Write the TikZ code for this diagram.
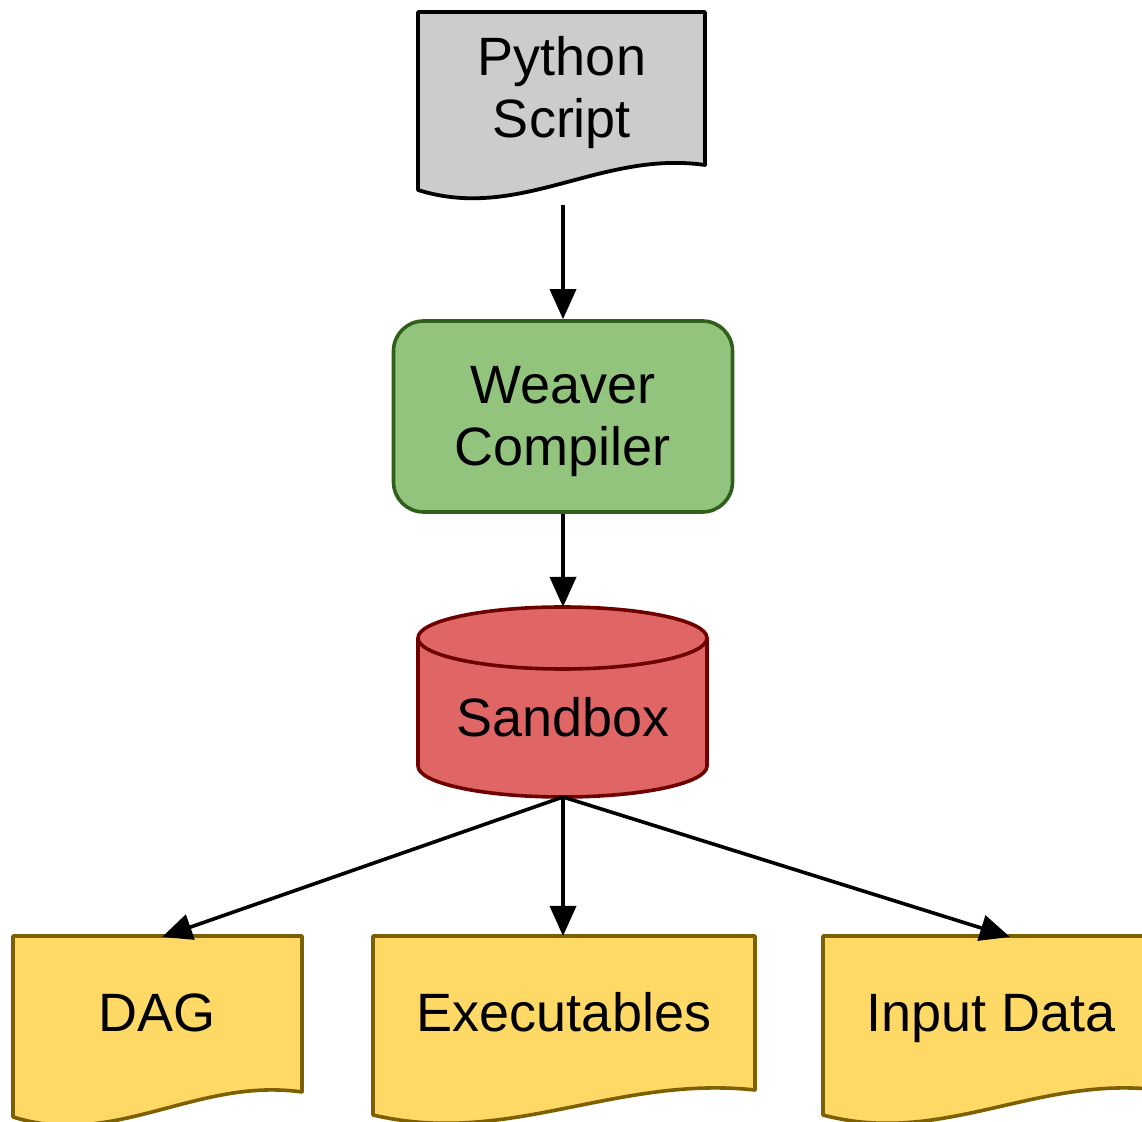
\documentclass[tikz,border=0pt]{standalone}
\usepackage{fontspec}
\setmainfont{Liberation Sans}
\usetikzlibrary{arrows.meta}
\definecolor{pyfill}{HTML}{CCCCCC}
\definecolor{wcfill}{HTML}{93C47D}
\definecolor{wcdraw}{HTML}{2F5F1A}
\definecolor{sbfill}{HTML}{E06666}
\definecolor{sbdraw}{HTML}{6E0000}
\definecolor{ylfill}{HTML}{FFD966}
\definecolor{yldraw}{HTML}{7F6000}
\newcommand{\docshape}[5]{%
  \pgfmathsetmacro{\dW}{#2-#1}%
  \pgfmathsetmacro{\cxa}{#2-0.366*\dW}%
  \pgfmathsetmacro{\cxb}{#2-0.645*\dW}%
  \draw[#5] (#1,-#3) -- (#2,-#3) -- (#2,-#4)
    .. controls (\cxa,-#4+15) and (\cxb,-#4-57) .. (#1,-#4-25) -- cycle;}
\begin{document}
\begin{tikzpicture}[x=0.5pt,y=0.5pt,
  lbl/.style={font=\fontsize{27}{31}\selectfont, align=center, inner sep=0pt},
  pydoc/.style={fill=pyfill, draw=black, line width=1.9pt, line join=round},
  yldoc/.style={fill=ylfill, draw=yldraw, line width=1.8pt, line join=round},
  sbcyl/.style={fill=sbfill, draw=sbdraw, line width=1.8pt},
  wcbox/.style={lbl, rectangle, rounded corners=15pt, fill=wcfill, draw=wcdraw,
    line width=1.8pt, minimum width=169.5pt, minimum height=95.5pt},
  conn/.style={line width=1.8pt, -{Triangle[length=15pt,width=13pt]}}]
\useasboundingbox (0,0) rectangle (1142,-1122);
\clip (0,0) rectangle (1142,-1122);
% document shapes
\docshape{418}{705}{12}{165}{pydoc}
\docshape{13}{302}{936}{1092}{yldoc}
\docshape{373}{755}{936}{1090}{yldoc}
\docshape{823}{1159}{936}{1090}{yldoc}
% cylinder
\draw[sbcyl] (418,-638) -- (418,-766)
  arc[start angle=180, end angle=360, x radius=72.25pt, y radius=15.5pt]
  -- (707,-638)
  arc[start angle=0, end angle=180, x radius=72.25pt, y radius=15.5pt] -- cycle;
\draw[sbcyl, fill=none] (418,-638)
  arc[start angle=180, end angle=360, x radius=72.25pt, y radius=15.5pt];
% text nodes
\node[lbl] (py) at (562,-93) {Python\\Script};
\node[wcbox] (wc) at (563,-416.5) {\rule{0pt}{24pt}Weaver\\Compiler};
\node[lbl, anchor=base] (sb) at (563,-737) {Sandbox};
\node[lbl, anchor=base] (dag) at (157.5,-1032) {DAG};
\node[lbl, anchor=base] (ex) at (564,-1032) {Executables};
\node[lbl, anchor=base] (in) at (991,-1032) {Input Data};
% connector ends
\coordinate (pyout) at (563,-205);
\coordinate (sbtop) at (563,-607);
\coordinate (sbbot) at (563,-797);
\coordinate (dagtop) at (162,-937);
\coordinate (extop) at (563,-936);
\coordinate (intop) at (1010,-937);
% connectors
\draw[conn] (pyout) -- (wc.north);
\draw[conn] (wc.south) -- (sbtop);
\draw[conn] (sbbot) -- (dagtop);
\draw[conn] (sbbot) -- (extop);
\draw[conn] (sbbot) -- (intop);
\end{tikzpicture}
\end{document}
